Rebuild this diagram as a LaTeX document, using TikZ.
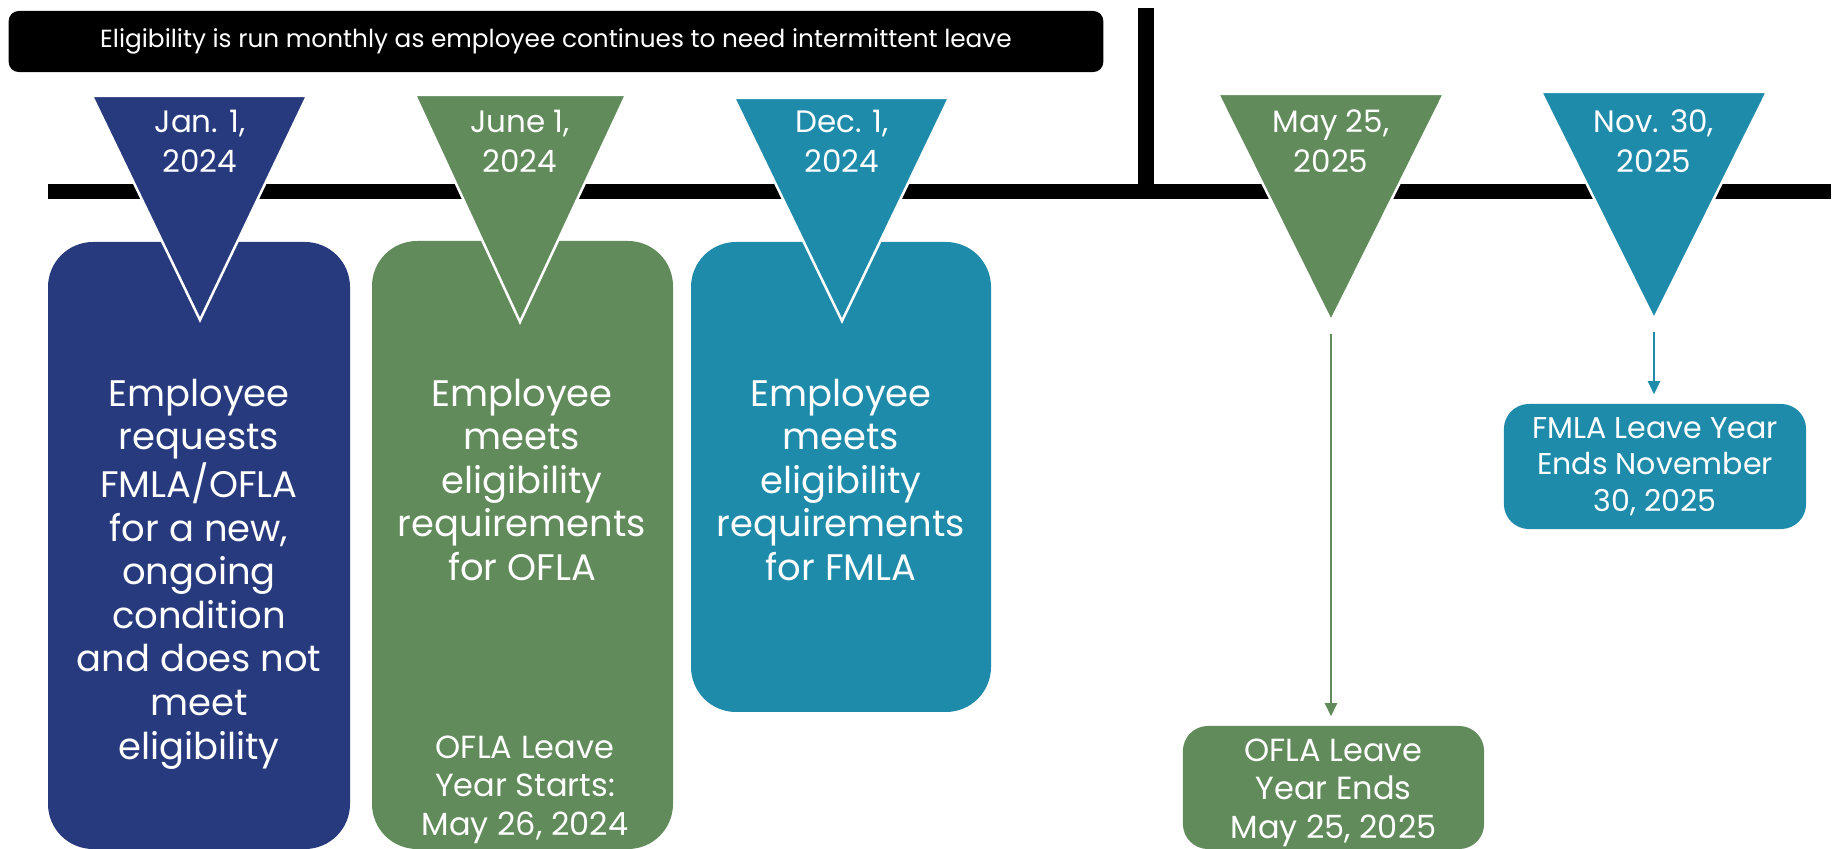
\documentclass[tikz,border=0pt]{standalone}
\usepackage{fontspec}
\setmainfont{Poppins}
\usepackage{xcolor}
\usepackage{tikz}
\usetikzlibrary{arrows.meta, positioning}

\definecolor{navyblue}{RGB}{40,58,126}
\definecolor{sagegreen}{RGB}{98,139,92}
\definecolor{oceanteal}{RGB}{30,139,170}

\begin{document}
\begin{tikzpicture}[x=0.01cm, y=-0.01cm,
    boxtext/.style={text=white, align=center, inner sep=0pt,
        font=\fontsize{10.5}{12.4}\selectfont},
    notetext/.style={text=white, align=center, inner sep=0pt,
        font=\fontsize{9.1}{11}\selectfont},
    datetext/.style={text=white, align=center, inner sep=0pt,
        font=\fontsize{8.8}{11.4}\selectfont},
    marker/.style={draw=white, line width=0.25mm},
    endbox/.style={text=white, align=center, rounded corners=2.5mm,
        inner sep=0pt},
    link/.style={-{Triangle[width=1.2mm,length=1.3mm]}, line width=0.2mm,
        shorten <=1.3mm, shorten >=0.9mm}]

    \useasboundingbox (0,0) rectangle (1835,849);

    % =================================================================
    % 1. KEY COORDINATES (TIPS OF THE DATE MARKERS)
    % =================================================================
    \coordinate (JanTip) at (200,320);
    \coordinate (JunTip) at (520,322);
    \coordinate (DecTip) at (842,321);
    \coordinate (MayTip) at (1331,321);
    \coordinate (NovTip) at (1654,319);

    % =================================================================
    % 2. TIMELINE AND THE BANNER ON TOP
    % =================================================================
    % Main horizontal time axis
    \draw[line width=1.5mm] (48,191.5) -- (1831,191.5);

    % Vertical stop that closes the monthly eligibility span
    \draw[line width=1.6mm] (1146,8) -- (1146,191.5);

    % Black banner
    \node[fill=black, rounded corners=1mm, minimum width=10.94cm,
        minimum height=0.61cm, text=white,
        font=\fontsize{7.05}{8.4}\selectfont] (note) at (556,41.5)
        {Eligibility is run monthly as employee continues to need intermittent leave};

    % =================================================================
    % 3. TALL COLOURED CARDS UNDER THE FIRST THREE DATES
    % =================================================================
    \fill[navyblue, rounded corners=4.5mm] (48,242) rectangle (350,849);
    \fill[sagegreen, rounded corners=4.5mm] (372,241) rectangle (673,849);
    \fill[oceanteal, rounded corners=4.5mm] (691,242) rectangle (991,712);

    % =================================================================
    % 4. DATE MARKERS (DOWNWARD TRIANGLES)
    % =================================================================
    \filldraw[marker, fill=navyblue] (92,96) -- (307,96) -- (JanTip) -- cycle;
    \filldraw[marker, fill=sagegreen] (415,95) -- (626,95) -- (JunTip) -- cycle;
    \filldraw[marker, fill=oceanteal] (734,98) -- (949,98) -- (DecTip) -- cycle;
    \filldraw[marker, fill=sagegreen] (1218,94) -- (1444,94) -- (MayTip) -- cycle;
    \filldraw[marker, fill=oceanteal] (1541,92) -- (1767,92) -- (NovTip) -- cycle;

    % Dates written inside the markers
    \node[datetext, anchor=north] (jan) at (200,109) {Jan. 1,\\2024};
    \node[datetext, anchor=north] (jun) at (520,109) {June 1,\\2024};
    \node[datetext, anchor=north] (dec) at (842,109) {Dec. 1,\\2024};
    \node[datetext, anchor=north] (may) at (1331,109) {May 25,\\2025};
    \node[datetext, anchor=north] (nov) at (1654,109) {Nov. 30,\\2025};

    % =================================================================
    % 5. TEXT OF THE TALL CARDS
    % =================================================================
    \node[boxtext, anchor=north] (request) at (199,378)
        {Employee\\requests\\FMLA/OFLA\\for a new,\\ongoing\\condition\\and does not\\meet\\eligibility};
    \node[boxtext, anchor=north] (oflamet) at (522,378)
        {Employee\\meets\\eligibility\\requirements\\for OFLA};
    \node[notetext, anchor=north] (oflastart) at (525,735)
        {OFLA Leave\\Year Starts:\\May 26, 2024};
    \node[boxtext, anchor=north] (fmlamet) at (841,378)
        {Employee\\meets\\eligibility\\requirements\\for FMLA};

    % =================================================================
    % 6. END OF THE LEAVE YEARS AND THEIR ARROWS
    % =================================================================
    \node[endbox, fill=oceanteal, minimum width=3.02cm, minimum height=1.25cm,
        font=\fontsize{8.55}{10.3}\selectfont] (fmlaend) at (1655,466.5)
        {FMLA Leave Year\\Ends November\\30, 2025};
    \node[endbox, fill=sagegreen, minimum width=3.01cm, minimum height=1.23cm,
        font=\fontsize{9.1}{11.3}\selectfont] (oflaend) at (1333.5,787.5)
        {};
    \node[notetext, anchor=north] (oflaendtext) at (1333.5,738)
        {OFLA Leave\\Year Ends\\May 25, 2025};

    \draw[link, sagegreen] (MayTip) -- (MayTip |- oflaend.north);
    \draw[link, oceanteal] (NovTip) -- (NovTip |- fmlaend.north);

\end{tikzpicture}
\end{document}
